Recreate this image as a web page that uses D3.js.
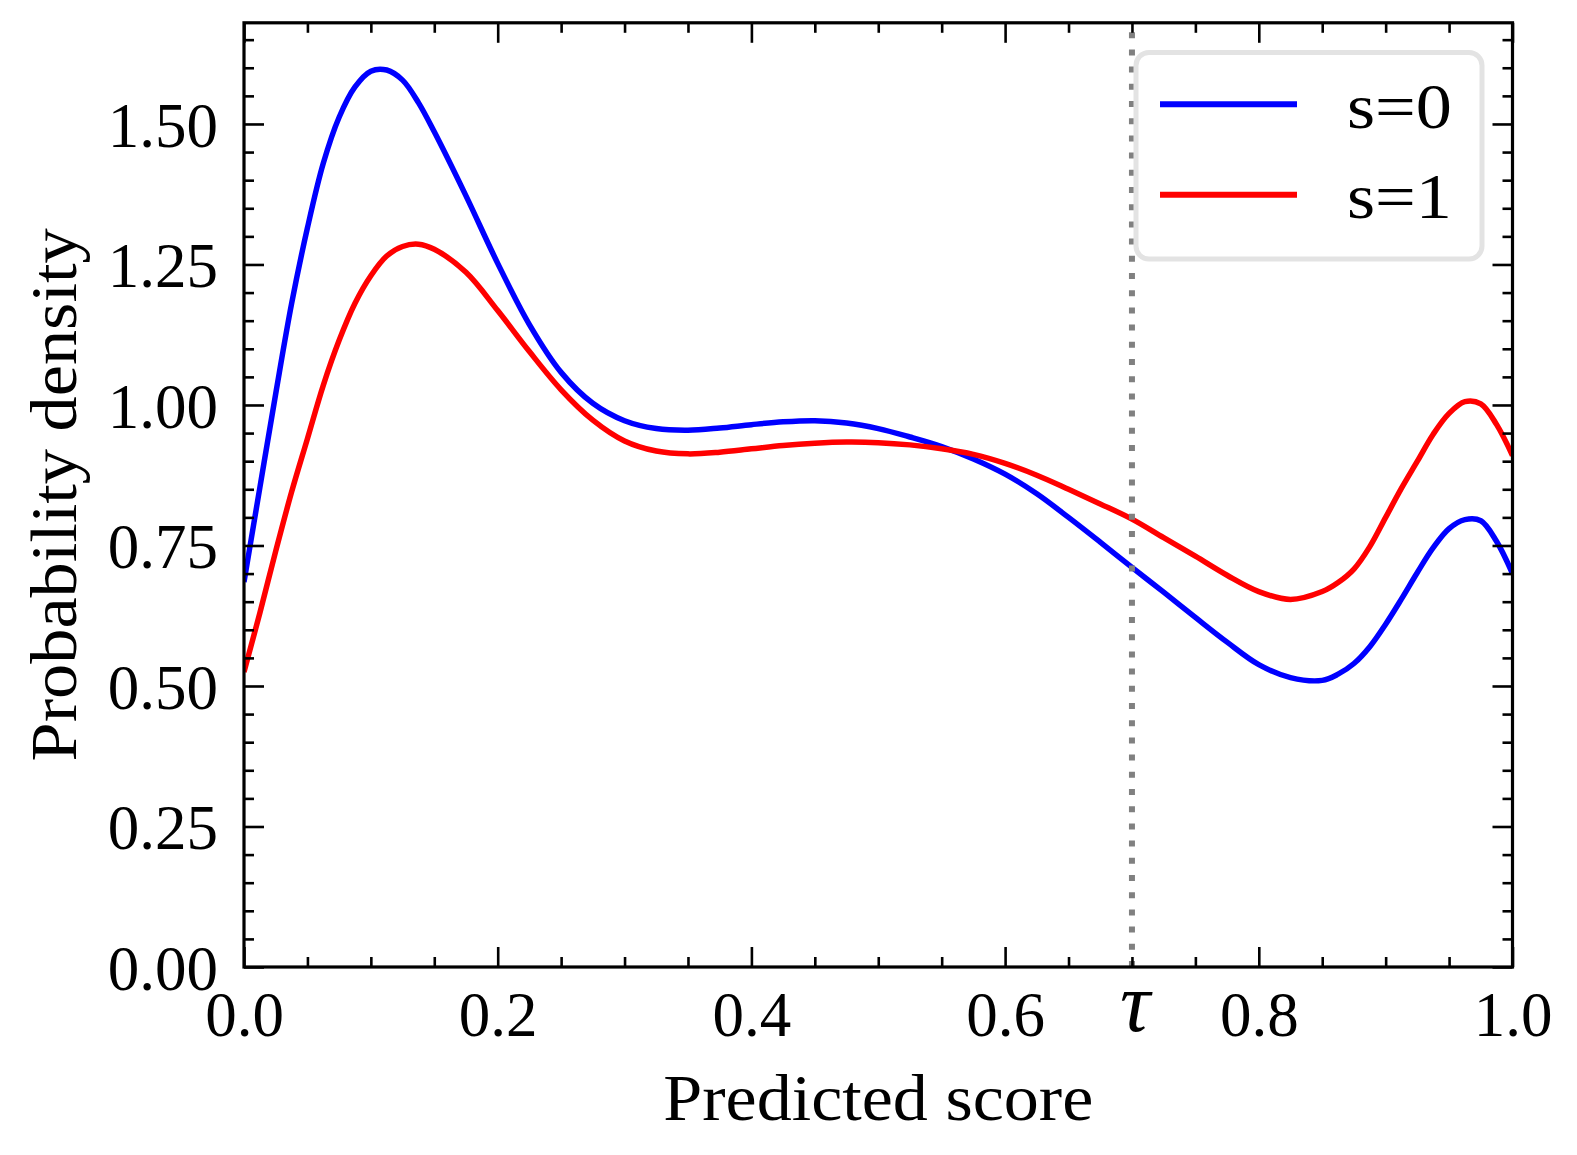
<!DOCTYPE html>
<html>
<head>
<meta charset="utf-8">
<script src="https://cdn.jsdelivr.net/npm/d3@7"></script>
<style>
  html, body { margin: 0; padding: 0; background: #ffffff; }
  svg { display: block; }
  text { font-family: "Liberation Serif", "DejaVu Serif", serif; fill: #000; }
</style>
</head>
<body>
<svg id="chart" width="1577" height="1155"></svg>
<script>
// ---------------- data ----------------
const scoreGrid = [0, 0.0125, 0.025, 0.0375, 0.05, 0.0625, 0.075, 0.0875, 0.1, 0.1125,
  0.125, 0.1375, 0.15, 0.175, 0.2, 0.225, 0.25, 0.275, 0.3, 0.325,
  0.35, 0.375, 0.4, 0.425, 0.45, 0.475, 0.5, 0.525, 0.55, 0.575,
  0.6, 0.625, 0.65, 0.675, 0.7, 0.725, 0.75, 0.775, 0.8, 0.825,
  0.85, 0.8625, 0.875, 0.8875, 0.9, 0.9125, 0.925, 0.9375, 0.95, 0.9625,
  0.975, 0.9875, 1.0];

const densityS0 = [0.685, 0.853, 1.020, 1.180, 1.315, 1.430, 1.512, 1.566, 1.594, 1.596,
  1.578, 1.538, 1.486, 1.372, 1.252, 1.143, 1.058, 1.003, 0.972, 0.958,
  0.955, 0.959, 0.965, 0.970, 0.972, 0.968, 0.958, 0.943, 0.926, 0.904,
  0.877, 0.842, 0.800, 0.756, 0.711, 0.667, 0.622, 0.578, 0.538, 0.515,
  0.510, 0.521, 0.540, 0.570, 0.610, 0.655, 0.702, 0.746, 0.780, 0.796,
  0.794, 0.757, 0.700];

const densityS1 = [0.525, 0.630, 0.740, 0.845, 0.940, 1.035, 1.115, 1.181, 1.230, 1.265,
  1.282, 1.286, 1.277, 1.236, 1.168, 1.095, 1.027, 0.973, 0.936, 0.918,
  0.913, 0.916, 0.922, 0.928, 0.932, 0.934, 0.933, 0.929, 0.922, 0.912,
  0.896, 0.875, 0.850, 0.824, 0.797, 0.764, 0.731, 0.697, 0.668, 0.654,
  0.668, 0.684, 0.708, 0.748, 0.800, 0.852, 0.900, 0.948, 0.985, 1.006,
  1.002, 0.965, 0.910];

const seriesNames = ["s=0", "s=1"];
const seriesColors = ["#0000ff", "#ff0000"];

const xMajorTicks = [0, 0.2, 0.4, 0.6, 0.8, 1.0];
const xTickLabels = ["0.0", "0.2", "0.4", "0.6", "0.8", "1.0"];
const yMajorTicks = [0, 0.25, 0.5, 0.75, 1.0, 1.25, 1.5];
const yTickLabels = ["0.00", "0.25", "0.50", "0.75", "1.00", "1.25", "1.50"];
const threshold = 0.7;
const thresholdLabel = "τ";
const xLabel = "Predicted score";
const yLabel = "Probability density";

// ---------------- layout ----------------
const L = 244, R = 1512.5, T = 22.8, B = 967;
const svg = d3.select("#chart");
const x = d3.scaleLinear().domain([0, 1]).range([L, R]);
const y = d3.scaleLinear().domain([0, 1.68]).range([B, T]);

const xMinor = d3.range(0, 1.0001, 0.05).map(v => +v.toFixed(2)).filter(v => !xMajorTicks.some(m => Math.abs(m - v) < 1e-6));
const yMinor = d3.range(0, 1.68, 0.05).map(v => +v.toFixed(2)).filter(v => !yMajorTicks.some(m => Math.abs(m - v) < 1e-6));

// clip
svg.append("defs").append("clipPath").attr("id", "plotclip")
  .append("rect").attr("x", L).attr("y", T).attr("width", R - L).attr("height", B - T);

// curves
const line = d3.line()
  .x((d, i) => x(scoreGrid[i]))
  .y(d => y(d))
  .curve(d3.curveCatmullRom.alpha(0.5));

const curves = svg.append("g").attr("clip-path", "url(#plotclip)");
[densityS0, densityS1].forEach((vals, k) => {
  curves.append("path")
    .datum(vals)
    .attr("d", line)
    .attr("fill", "none")
    .attr("stroke", seriesColors[k])
    .attr("stroke-width", 5.5)
    .attr("stroke-linejoin", "round");
});

// threshold dotted line (drawn from bottom to top)
svg.append("line")
  .attr("x1", x(threshold)).attr("x2", x(threshold))
  .attr("y1", B).attr("y2", T)
  .attr("stroke", "#808080")
  .attr("stroke-width", 6)
  .attr("stroke-dasharray", "6 11.2");

// axes (ticks inward, all four sides)
function styleAxis(g) {
  g.select(".domain").remove();
  g.selectAll(".tick line").attr("stroke", "#000").attr("stroke-width", 2.6);
}
const tickFont = 63;

// bottom major with labels
const gBottom = svg.append("g").attr("transform", `translate(0,${B})`)
  .call(d3.axisBottom(x).tickValues(xMajorTicks).tickSizeInner(-20).tickSizeOuter(0)
    .tickFormat((d, i) => xTickLabels[i]));
styleAxis(gBottom);
gBottom.selectAll(".tick text")
  .attr("y", 69).attr("dy", null)
  .style("font-size", tickFont + "px")
  .style("font-family", '"Liberation Serif", serif')
  .attr("fill", "#000");
svg.append("g").attr("transform", `translate(0,${B})`)
  .call(d3.axisBottom(x).tickValues(xMinor).tickSizeInner(-10).tickSizeOuter(0).tickFormat(""))
  .call(styleAxis);

// top
svg.append("g").attr("transform", `translate(0,${T})`)
  .call(d3.axisTop(x).tickValues(xMajorTicks).tickSizeInner(-20).tickSizeOuter(0).tickFormat(""))
  .call(styleAxis);
svg.append("g").attr("transform", `translate(0,${T})`)
  .call(d3.axisTop(x).tickValues(xMinor).tickSizeInner(-10).tickSizeOuter(0).tickFormat(""))
  .call(styleAxis);

// left major with labels
const gLeft = svg.append("g").attr("transform", `translate(${L},0)`)
  .call(d3.axisLeft(y).tickValues(yMajorTicks).tickSizeInner(-20).tickSizeOuter(0)
    .tickFormat((d, i) => yTickLabels[i]));
styleAxis(gLeft);
gLeft.selectAll(".tick text")
  .attr("x", -26).attr("dy", "0.35em")
  .style("font-size", tickFont + "px")
  .style("font-family", '"Liberation Serif", serif')
  .attr("fill", "#000");
svg.append("g").attr("transform", `translate(${L},0)`)
  .call(d3.axisLeft(y).tickValues(yMinor).tickSizeInner(-10).tickSizeOuter(0).tickFormat(""))
  .call(styleAxis);

// right
svg.append("g").attr("transform", `translate(${R},0)`)
  .call(d3.axisRight(y).tickValues(yMajorTicks).tickSizeInner(-20).tickSizeOuter(0).tickFormat(""))
  .call(styleAxis);
svg.append("g").attr("transform", `translate(${R},0)`)
  .call(d3.axisRight(y).tickValues(yMinor).tickSizeInner(-10).tickSizeOuter(0).tickFormat(""))
  .call(styleAxis);

// frame
svg.append("rect")
  .attr("x", L).attr("y", T).attr("width", R - L).attr("height", B - T)
  .attr("fill", "none").attr("stroke", "#000").attr("stroke-width", 3.2);

// tau label
svg.append("text")
  .attr("x", x(threshold) + 3).attr("y", 1031)
  .attr("text-anchor", "middle")
  .style("font-size", "84px")
  .style("font-style", "italic")
  .text(thresholdLabel);

// axis labels
svg.append("text")
  .attr("x", (L + R) / 2).attr("y", 1120)
  .attr("text-anchor", "middle")
  .attr("textLength", 430).attr("lengthAdjust", "spacingAndGlyphs")
  .style("font-size", "66px")
  .text(xLabel);

svg.append("text")
  .attr("transform", `translate(76,${(T + B) / 2}) rotate(-90)`)
  .attr("text-anchor", "middle")
  .attr("textLength", 533).attr("lengthAdjust", "spacingAndGlyphs")
  .style("font-size", "66px")
  .text(yLabel);

// legend
const leg = svg.append("g");
leg.append("rect")
  .attr("x", 1136).attr("y", 52.5).attr("width", 346).attr("height", 206.5)
  .attr("rx", 13).attr("ry", 13)
  .attr("fill", "#ffffff").attr("fill-opacity", 0.85)
  .attr("stroke", "#e3e3e3").attr("stroke-width", 5);
const legRows = [104.3, 194.7];
seriesNames.forEach((name, k) => {
  leg.append("line")
    .attr("x1", 1160).attr("x2", 1297)
    .attr("y1", legRows[k]).attr("y2", legRows[k])
    .attr("stroke", seriesColors[k]).attr("stroke-width", 6);
  leg.append("text")
    .attr("x", 1347).attr("y", legRows[k] + 23.5)
    .attr("textLength", 105).attr("lengthAdjust", "spacingAndGlyphs")
    .style("font-size", "63px")
    .text(name);
});
</script>
</body>
</html>
